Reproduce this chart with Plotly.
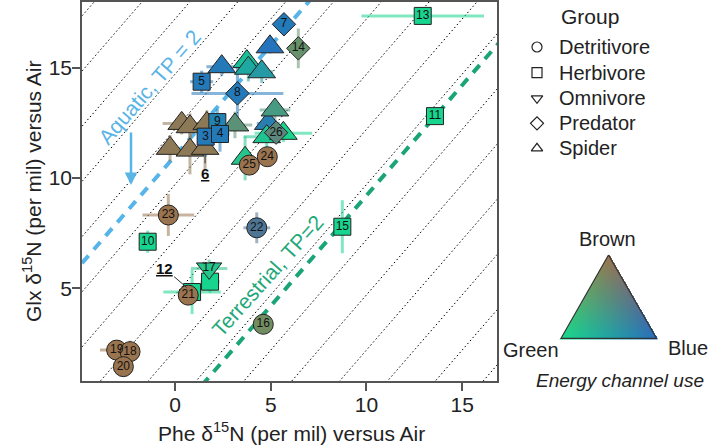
import numpy as np
import plotly.graph_objects as go

# ---------------- data ----------------
labels = ['', '', '', '', '', '6', '', '', '', '', '', '', '', '', '', '', '',
          '9', '3', '4', '5', '10', '11', '12', '', '13', '15',
          '17',
          '8', '7', '14', '26',
          '22', '16', '23', '24', '25', '21', '19', '18', '20']
groups = (['Spider'] * 17 + ['Herbivore'] * 10 + ['Omnivore'] +
          ['Predator'] * 4 + ['Detritivore'] * 9)
phe = [0.35, 0.78, 1.66, -0.26, 0.78, 1.57, 3.13, 2.44, 4.96, 3.75, 3.83, 4.53, 4.87, 5.22, 4.79, 5.66, 3.66,
       2.21, 1.60, 2.35, 1.39, -1.43, 13.58, 0.89, 1.83, 12.94, 8.74,
       1.78,
       3.26, 5.69, 6.44, 5.28,
       4.27, 4.61, -0.35, 4.82, 3.88, 0.69, -3.05, -2.35, -2.70]
glx = [12.47, 12.32, 12.47, 11.34, 11.26, 11.34, 12.40, 15.04, 15.94, 15.27, 14.97, 14.81, 12.47, 13.08, 11.87, 12.02, 10.89,
       12.53, 11.87, 11.99, 14.36, 7.11, 12.80, 4.83, 5.30, 17.34, 7.79,
       5.90,
       13.83, 16.96, 15.87, 12.05,
       7.74, 3.37, 8.32, 10.96, 10.58, 4.69, 2.20, 2.13, 1.45]
phe_sd = [1.0, 0.6, 0.5, 0.5, 0.4, 0.4, 0.9, 0.8, 0.3, 0.4, 0.5, 0.6, 0.6, 0.8, 1.2, 1.5, 0.5,
          0.3, 0.4, 0.5, 0.6, 0.1, 0.3, 1.5, 0.5, 3.2, 0.2,
          0.95,
          2.4, 0.2, 0.3, 0.4,
          0.7, 0.2, 1.35, 0.3, 0.3, 0.3, 0.87, 0.1, 0.1]
glx_sd = [0.5, 0.6, 0.6, 0.6, 1.1, 1.0, 0.6, 0.4, 0.3, 0.5, 0.6, 0.5, 0.4, 0.5, 0.7, 0.4, 1.0,
          0.6, 0.9, 0.8, 0.5, 0.5, 0.3, 1.0, 0.5, 0.4, 1.2,
          0.4,
          1.4, 0.2, 0.9, 0.4,
          0.7, 0.4, 0.95, 0.3, 0.3, 0.3, 0.2, 0.5, 0.1]
# energy channel use (brown, green, blue fractions)
f_brown = [0.9, 0.9, 0.9, 0.9, 0.9, 0.9, 0.5, 0.0, 0.0, 0.0, 0.0, 0.05, 0.05, 0.35, 0.05, 0.0, 0.1,
           0.0, 0.0, 0.0, 0.0, 0.0, 0.0, 0.0, 0.0, 0.0, 0.0,
           0.1,
           0.0, 0.0, 0.6, 0.5,
           0.35, 0.7, 1.0, 1.0, 1.0, 1.0, 1.0, 1.0, 1.0]
f_green = [0.05, 0.05, 0.05, 0.05, 0.05, 0.05, 0.3, 0.1, 0.05, 0.75, 0.55, 0.4, 0.15, 0.4, 0.8, 0.95, 0.8,
           0.2, 0.1, 0.1, 0.1, 0.95, 0.95, 0.95, 0.95, 0.95, 0.95,
           0.8,
           0.1, 0.1, 0.3, 0.2,
           0.05, 0.25, 0.0, 0.0, 0.0, 0.0, 0.0, 0.0, 0.0]
f_blue = [0.05, 0.05, 0.05, 0.05, 0.05, 0.05, 0.2, 0.9, 0.95, 0.25, 0.45, 0.55, 0.8, 0.25, 0.15, 0.05, 0.1,
          0.8, 0.9, 0.9, 0.9, 0.05, 0.05, 0.05, 0.05, 0.05, 0.05,
          0.1,
          0.9, 0.9, 0.1, 0.3,
          0.6, 0.05, 0.0, 0.0, 0.0, 0.0, 0.0, 0.0, 0.0]

external_labels = ['6', '12']
legend_groups = ['Detritivore', 'Herbivore', 'Omnivore', 'Predator', 'Spider']
x_ticks = [0, 5, 10, 15]
y_ticks = [5, 10, 15]
aquatic_tp2 = 11.0        # Glx - Phe offset for aquatic TP = 2
terrestrial_tp2 = -0.8    # Glx - Phe offset for terrestrial TP = 2
guide_offsets = [-15.3, -12.8, -10.3, -7.8, -5.3, -2.8, -0.3, 2.2, 4.7, 7.2,
                 9.7, 12.2, 14.7, 17.2, 19.7, 22.2]

# ---------------- styles ----------------
BROWN = np.array([154, 116, 78])
GREEN = np.array([22, 218, 140])
BLUE = np.array([38, 110, 190])
FONT = 'Liberation Sans, Arial, sans-serif'
symbols = {'Spider': 'triangle-up', 'Herbivore': 'square', 'Omnivore': 'triangle-down',
           'Predator': 'diamond', 'Detritivore': 'circle'}
sizes = {'Spider': 24, 'Herbivore': 17, 'Omnivore': 22, 'Predator': 18, 'Detritivore': 20}
draw_order = ['Spider', 'Herbivore', 'Omnivore', 'Predator', 'Detritivore']


def mix(b, g, u, alpha=None):
    c = b * BROWN + g * GREEN + u * BLUE
    r, gg, bb = [int(round(v)) for v in c]
    if alpha is None:
        return f'rgb({r},{gg},{bb})'
    return f'rgba({r},{gg},{bb},{alpha})'


colors = [mix(b, g, u) for b, g, u in zip(f_brown, f_green, f_blue)]
bar_colors = [mix(b, g, u, 0.55) for b, g, u in zip(f_brown, f_green, f_blue)]

XR = [-4.86, 16.82]
YR = [0.8, 17.97]

fig = go.Figure()

# guide lines
gx, gy = [], []
for off in guide_offsets:
    gx += [-8, 20, None]
    gy += [-8 + off, 20 + off, None]
fig.add_trace(go.Scatter(x=gx, y=gy, mode='lines', hoverinfo='skip',
                         line=dict(color='#000', width=1, dash='1.5px,2.5px')))
# TP=2 lines
fig.add_trace(go.Scatter(x=[XR[0], 7.2], y=[XR[0] + aquatic_tp2, 7.2 + aquatic_tp2], mode='lines',
                         line=dict(color='#56b4e9', width=4, dash='10px,8px'), hoverinfo='skip'))
fig.add_trace(go.Scatter(x=[1.4, 17.5], y=[1.4 + terrestrial_tp2, 17.5 + terrestrial_tp2], mode='lines',
                         line=dict(color='#1aa478', width=4, dash='10px,8px'), hoverinfo='skip'))

# error bars
for i in range(len(phe)):
    fig.add_trace(go.Scatter(
        x=[phe[i]], y=[glx[i]], mode='markers', marker=dict(size=2, opacity=0), hoverinfo='skip',
        error_x=dict(type='data', array=[phe_sd[i]], color=bar_colors[i], thickness=3, width=0),
        error_y=dict(type='data', array=[glx_sd[i]], color=bar_colors[i], thickness=3, width=0)))

# markers
for g in draw_order:
    idx = [i for i, gg in enumerate(groups) if gg == g]
    fig.add_trace(go.Scatter(
        x=[phe[i] for i in idx], y=[glx[i] for i in idx], mode='markers+text',
        marker=dict(symbol=symbols[g], size=sizes[g], color=[colors[i] for i in idx],
                    line=dict(color='#222', width=1), opacity=1),
        text=[labels[i] if labels[i] not in external_labels else '' for i in idx],
        textposition='middle center', textfont=dict(size=12, color='#111', family=FONT),
        hoverinfo='skip'))

annotations = []
# external labels with leader lines
ext_offsets = {'6': (0, 25), '12': (-28, -24)}
for lab in external_labels:
    i = labels.index(lab)
    ax, ay = ext_offsets[lab]
    annotations.append(dict(x=phe[i], y=glx[i], xref='x', yref='y', text=f'<b><u>{lab}</u></b>',
                            showarrow=True, arrowhead=0, arrowwidth=1, arrowcolor='#333',
                            ax=ax, ay=ay, standoff=7,
                            font=dict(size=15, color='#111', family=FONT)))
# line labels
annotations.append(dict(x=-1.36, y=14.1, xref='x', yref='y', text='Aquatic, TP = 2', showarrow=False,
                        xanchor='center', yanchor='middle',
                        textangle=-49, font=dict(size=21, color='#5ab4e6', family=FONT)))
annotations.append(dict(x=4.83, y=5.6, xref='x', yref='y', text='Terrestrial, TP=2', showarrow=False,
                        xanchor='center', yanchor='middle',
                        textangle=-48, font=dict(size=21, color='#1fa87a', family=FONT)))
annotations.append(dict(x=-2.3, y=9.68, ax=-2.3, ay=12.13, xref='x', yref='y', axref='x', ayref='y',
                        text='', showarrow=True, arrowhead=2, arrowsize=1, arrowwidth=2.5,
                        arrowcolor='#5ab4e6'))


def px_x(p):
    return (p - 82) / 627


def px_y(p):
    return (381 - p) / 379


annotations.append(dict(x=px_x(291), y=px_y(432), xref='paper', yref='paper', showarrow=False,
                        xanchor='center', yanchor='middle',
                        text='Phe δ<sup>15</sup>N (per mil) versus Air',
                        font=dict(size=21, color='#222', family=FONT)))
annotations.append(dict(x=px_x(32), y=px_y(192), xref='paper', yref='paper', showarrow=False,
                        xanchor='center', yanchor='middle',
                        textangle=-90, text='Glx δ<sup>15</sup>N (per mil) versus Air',
                        font=dict(size=21, color='#222', family=FONT)))

# right panel (pixel-like coordinates on x2/y2)
leg_y = [47, 72.7, 98.3, 123.3, 148.3]
fig.add_trace(go.Scatter(
    x=[537] * len(legend_groups), y=leg_y, xaxis='x2', yaxis='y2', mode='markers', hoverinfo='skip',
    marker=dict(symbol=[symbols[g] + '-open' for g in legend_groups], size=10, color='#222',
                line=dict(width=1.2))))
for g, yy in zip(legend_groups, leg_y):
    annotations.append(dict(x=557, y=yy, xref='x2', yref='y2', text=g, showarrow=False,
                            xanchor='left', yanchor='middle',
                            font=dict(size=20, color='#222', family=FONT)))
annotations.append(dict(x=590, y=16, xref='x2', yref='y2', text='Group', showarrow=False,
                        xanchor='center', yanchor='middle',
                        font=dict(size=21, color='#222', family=FONT)))
annotations.append(dict(x=607, y=239, xref='x2', yref='y2', text='Brown', showarrow=False,
                        xanchor='center', yanchor='middle',
                        font=dict(size=20, color='#222', family=FONT)))
annotations.append(dict(x=561, y=350, xref='x2', yref='y2', text='Green', showarrow=False,
                        xanchor='right', yanchor='middle',
                        font=dict(size=20, color='#222', family=FONT)))
annotations.append(dict(x=688, y=348, xref='x2', yref='y2', text='Blue', showarrow=False,
                        xanchor='center', yanchor='middle',
                        font=dict(size=20, color='#222', family=FONT)))
annotations.append(dict(x=620, y=380, xref='x2', yref='y2', text='<i>Energy channel use</i>',
                        xanchor='center', yanchor='middle',
                        showarrow=False, font=dict(size=19, color='#222', family=FONT)))

# ternary colour triangle
A = (608.5, 255.0)
L = (561.0, 338.3)
R = (656.5, 338.3)
x0, y0 = 560, 254
W, H = 98, 86
xs = x0 + np.arange(W)
ys = y0 + np.arange(H)
PX, PY = np.meshgrid(xs, ys)
(x1, y1), (x2, y2), (x3, y3) = A, L, R
det = (y2 - y3) * (x1 - x3) + (x3 - x2) * (y1 - y3)
l1 = ((y2 - y3) * (PX - x3) + (x3 - x2) * (PY - y3)) / det
l2 = ((y3 - y1) * (PX - x3) + (x1 - x3) * (PY - y3)) / det
l3 = 1 - l1 - l2
inside = (l1 >= -0.01) & (l2 >= -0.01) & (l3 >= -0.01)
c1, c2, c3 = np.clip(l1, 0, 1), np.clip(l2, 0, 1), np.clip(l3, 0, 1)
s = c1 + c2 + c3
c1, c2, c3 = c1 / s, c2 / s, c3 / s
img = np.zeros((H, W, 4))
for k in range(3):
    img[:, :, k] = c1 * BROWN[k] + c2 * GREEN[k] + c3 * BLUE[k]
img[:, :, 3] = inside.astype(float)
fig.add_trace(go.Image(z=img, colormodel='rgba', x0=x0, y0=y0, dx=1, dy=1,
                       xaxis='x2', yaxis='y2', hoverinfo='skip'))
fig.add_trace(go.Scatter(x=[A[0], L[0], R[0], A[0]], y=[A[1], L[1], R[1], A[1]],
                         xaxis='x2', yaxis='y2', mode='lines', hoverinfo='skip',
                         line=dict(color='#333', width=1.2)))

axis_common = dict(showgrid=False, zeroline=False, ticks='outside', ticklen=8, tickwidth=1.5,
                   tickcolor='#555', showline=True, mirror=True, linecolor='#555', linewidth=1.5,
                   ticklabelstandoff=-4,
                   tickfont=dict(size=21, color='#222', family=FONT))
fig.update_layout(
    width=709, height=448, margin=dict(l=82, r=0, t=2, b=67),
    paper_bgcolor='white', plot_bgcolor='white', showlegend=False,
    font=dict(family=FONT),
    xaxis=dict(domain=[0, 415 / 627], range=XR, tickvals=x_ticks, **axis_common),
    yaxis=dict(range=YR, tickvals=y_ticks, **axis_common),
    xaxis2=dict(domain=[438 / 627, 1], range=[520, 709], visible=False, anchor='y2'),
    yaxis2=dict(domain=[0, 1], range=[381, 2], visible=False, anchor='x2'),
    annotations=annotations,
)

fig.write_html('out.html')
